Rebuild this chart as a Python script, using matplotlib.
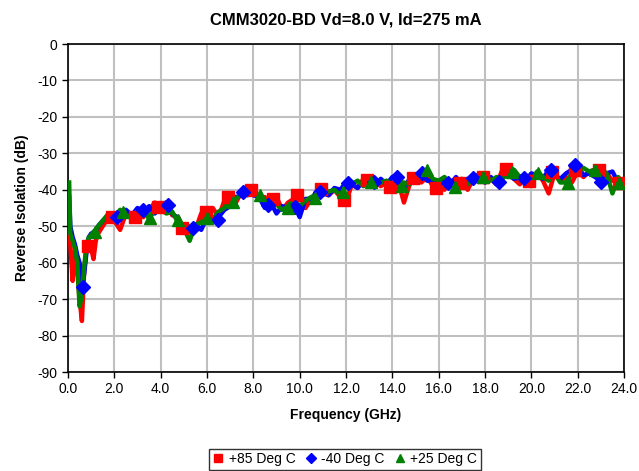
import numpy as np
import matplotlib
matplotlib.use("Agg")
import matplotlib.pyplot as plt

plt.rcParams["font.family"] = ["Liberation Sans", "DejaVu Sans"]
plt.rcParams["axes.unicode_minus"] = False

# ── data ──────────────────────────────────────────────────────────────────────
freq_lo = [0.05, 0.1, 0.2, 0.3, 0.4, 0.5, 0.6, 0.7, 0.8, 0.9, 1.0, 1.1, 1.2, 1.3]
freq_hi = list(np.arange(1.5, 24.01, 0.25))
freq = np.array(freq_lo + freq_hi)

iso_85 = [
    -47, -55, -65, -57, -62, -70, -76, -62, -56, -55, -56, -59, -54, -52,
    -50, -47.5, -48.5, -51, -46.5, -48, -46, -47.5,
    -45.5, -43.5, -46, -43.5, -47, -47.5, -51, -50,
    -51, -46.5, -47.5, -45, -47.5, -43, -42, -43.5,
    -40.5, -41, -39.5, -42.5, -42, -44, -42, -45.5,
    -43.5, -42.5, -41, -45, -42.5, -40.5, -39.5, -41.5,
    -40, -42, -43.5, -38.5, -39.5, -37, -38.5, -37.5,
    -39, -38, -40, -37.5, -43.5, -38.5, -36.5, -38,
    -36.5, -39, -38, -40, -37.5, -39, -37.5, -40,
    -37, -36, -38, -37, -38.5, -34.5, -36, -37,
    -38.5, -37, -38.5, -35.5, -37.5, -41, -35.5, -37.5,
    -36.5, -38, -35, -36.5, -35, -34.5, -36.5, -35.5,
    -37.5, -38, -39.5,
]
iso_m40 = [
    -42, -50, -53, -55, -58, -60, -67, -63, -57, -53, -52, -52, -51, -50,
    -48.5, -47, -48, -47, -45.5, -47, -45, -46.5,
    -44.5, -46.5, -44, -43.5, -46.5, -48, -50.5, -51.5,
    -49.5, -51, -47.5, -48.5, -47.5, -45.5, -44.5, -42,
    -41.5, -40, -41.5, -42, -45, -43.5, -46.5, -44.5,
    -45, -44, -47.5, -42.5, -42.5, -40.5, -41, -41.5,
    -39.5, -40, -38, -38.5, -39.5, -37.5, -37, -39,
    -37, -38.5, -36.5, -36, -39.5, -37, -37, -35,
    -37.5, -37.5, -39, -37.5, -38.5, -36.5, -39, -37,
    -37.5, -35.5, -38, -36.5, -38.5, -36, -35, -37,
    -36.5, -37.5, -35.5, -36, -37, -34.5, -36, -37,
    -35.5, -34.5, -33.5, -36, -35.5, -36.5, -37.5, -35.5,
    -35, -38, -37.5,
]
iso_25 = [
    -38, -52, -54, -56, -60, -72, -69, -61, -55, -53, -52.5, -51.5, -51, -50,
    -48.5, -46.5, -47.5, -45.5, -47, -47.5, -46, -45,
    -48, -45.5, -45.5, -46.5, -46, -49, -50.5, -54,
    -49.5, -49, -47, -48, -46, -45, -43, -42.5,
    -41, -41.5, -40, -42, -43, -44.5, -44, -45.5,
    -44.5, -43, -44.5, -43, -42, -41.5, -40, -40.5,
    -40, -41.5, -39, -38.5, -37.5, -39, -37, -38.5,
    -38, -37.5, -38.5, -39.5, -38, -38.5, -37, -36,
    -34.5, -37, -37.5, -36.5, -38.5, -38, -37, -38.5,
    -36.5, -37, -36, -37.5, -36.5, -37, -35.5, -34.5,
    -36.5, -36, -37.5, -35, -36.5, -37.5, -35.5, -38,
    -38, -35.5, -35, -34, -35, -34.5, -34, -35.5,
    -41, -36.5, -39,
]

# sparse marker series (legend entries)
mk_85_f = [0.88, 1.88, 2.89, 3.9, 4.9, 5.95, 6.9, 7.9, 8.86, 9.9, 10.9, 11.9,
           12.9, 13.9, 14.9, 15.9, 16.9, 17.9, 18.9, 19.9, 20.9, 21.9, 22.9, 23.8]
mk_85_v = [-55.5, -47.5, -47.5, -44.8, -50.5, -46, -42, -40, -42.5, -41.5, -39.8, -42.8,
           -37.3, -39.2, -36.8, -39.5, -38.2, -36.5, -34.3, -37.6, -35, -34.5, -34.5, -38.2]
mk_m40_f = [0.65, 2.1, 3.25, 4.33, 5.4, 6.49, 7.57, 8.65, 9.8, 10.88, 12.1, 13.2,
            14.2, 15.3, 16.4, 17.5, 18.6, 19.7, 20.87, 21.88, 23.0]
mk_m40_v = [-66.6, -47.4, -45.6, -44.2, -50.6, -48.3, -40.5, -44.2, -44.6, -40.5, -38.1, -38,
            -36.4, -35.5, -38.2, -36.9, -37.8, -36.9, -34.6, -33.2, -37.8]
mk_25_f = [1.15, 2.39, 3.54, 4.76, 6.0, 7.13, 8.29, 9.51, 10.66, 11.88, 13.1, 14.4,
           15.5, 16.7, 17.9, 19.15, 20.3, 21.6, 22.75, 23.8]
mk_25_v = [-51.5, -46, -47.8, -48.3, -47.8, -43.3, -41.4, -45.1, -42.3, -40.5, -37.8, -39,
           -34.6, -39.2, -36.4, -35, -35.5, -38.2, -34.6, -38.2]

x_ticks = np.arange(0, 24.1, 2.0)
y_ticks = np.arange(-90, 1, 10)

# ── plot ──────────────────────────────────────────────────────────────────────
fig = plt.figure(figsize=(6.39, 4.71), dpi=100)
ax = fig.add_axes([68 / 639, 1 - 372 / 471, 556 / 639, 328 / 471])

ax.plot(freq, iso_85, color="#FF0000", lw=3.2, zorder=3)
ax.plot(freq, iso_m40, color="#0000FF", lw=3.2, zorder=3)
ax.plot(freq, iso_25, color="#008000", lw=3.2, zorder=3)

ax.plot(mk_85_f, mk_85_v, ls="none", marker="s", ms=8.5, color="#FF0000",
        label="+85 Deg C", zorder=4)
ax.plot(mk_m40_f, mk_m40_v, ls="none", marker="D", ms=7.5, color="#0000FF",
        label="-40 Deg C", zorder=4)
ax.plot(mk_25_f, mk_25_v, ls="none", marker="^", ms=9, color="#008000",
        label="+25 Deg C", zorder=4)

ax.set_xlim(0, 24)
ax.set_ylim(-90, 0)
ax.set_xticks(x_ticks)
ax.set_xticklabels([f"{t:.1f}" for t in x_ticks])
ax.set_yticks(y_ticks)
ax.tick_params(labelsize=10, direction="out", length=4, width=1, colors="black")
ax.grid(True, color="#C0C0C0", lw=1.5, zorder=0)
ax.set_axisbelow(True)
for s in ax.spines.values():
    s.set_color("black")
    s.set_linewidth(1.2)

ax.set_title("CMM3020-BD Vd=8.0 V, Id=275 mA", fontsize=12, fontweight="bold", pad=14)
ax.set_xlabel("Frequency (GHz)", fontsize=10, fontweight="bold", labelpad=8)
ax.set_ylabel("Reverse Isolation (dB)", fontsize=10, fontweight="bold", labelpad=6)

leg = fig.legend(loc="lower center", bbox_to_anchor=(0.54, -0.012), ncol=3, fontsize=10,
                 frameon=True, fancybox=False, edgecolor="black", handlelength=0.8,
                 handletextpad=0.35, columnspacing=0.7, borderpad=0.25, markerscale=0.7)
leg.get_frame().set_linewidth(1)

fig.savefig("out.png", dpi=100)
